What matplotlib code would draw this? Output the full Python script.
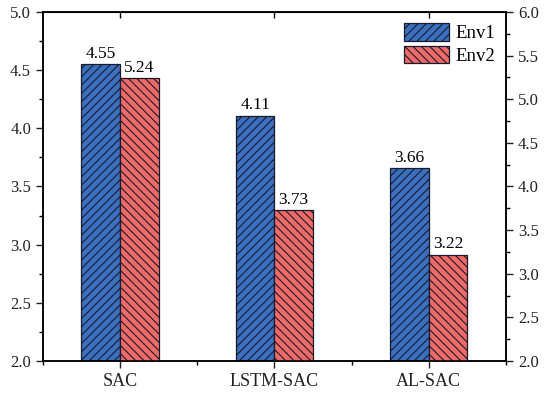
import numpy as np
import matplotlib.pyplot as plt
from matplotlib.ticker import MultipleLocator, FormatStrFormatter

methods = ['SAC', 'LSTM-SAC', 'AL-SAC']
env1 = [4.55, 4.11, 3.66]   # left axis
env2 = [5.24, 3.73, 3.22]   # right axis

plt.rcParams['font.family'] = ['Liberation Serif', 'DejaVu Serif']
plt.rcParams['hatch.linewidth'] = 0.8
plt.rcParams['hatch.color'] = '#1a1a2a'

fig = plt.figure(figsize=(5.5, 3.93), dpi=100)
ax = fig.add_axes([0.078, 0.0814, 0.842, 0.8881])
ax2 = ax.twinx()

x = np.arange(len(methods))
w = 0.25
b1 = ax.bar(x - w / 2, np.array(env1) - 2.0, w, bottom=2.0, color='#3b6fc0',
            edgecolor='#1a1a2a', linewidth=0.9, hatch='////', label='Env1')
b2 = ax2.bar(x + w / 2, np.array(env2) - 2.0, w, bottom=2.0, color='#f06a68',
             edgecolor='#1a1a2a', linewidth=0.9, hatch='\\\\\\\\', label='Env2')

for xi, v in zip(x, env1):
    ax.text(xi - w / 2, v + 0.02, '%.2f' % v, ha='center', va='bottom', fontsize=12.5)
for xi, v in zip(x, env2):
    ax2.text(xi + w / 2, v + 0.027, '%.2f' % v, ha='center', va='bottom', fontsize=12.5)

ax.set_xlim(-0.5, 2.5)
ax.set_ylim(2.0, 5.0)
ax2.set_ylim(2.0, 6.0)

ax.set_xticks(x)
ax.set_xticklabels(methods, fontsize=13)
ax.xaxis.set_minor_locator(MultipleLocator(0.5))
ax.yaxis.set_major_locator(MultipleLocator(0.5))
ax.yaxis.set_minor_locator(MultipleLocator(0.25))
ax.yaxis.set_major_formatter(FormatStrFormatter('%.1f'))
ax2.yaxis.set_major_locator(MultipleLocator(0.5))
ax2.yaxis.set_minor_locator(MultipleLocator(0.25))
ax2.yaxis.set_major_formatter(FormatStrFormatter('%.1f'))

ax.tick_params(axis='both', which='major', direction='out', length=5, width=1, labelsize=12, colors='#222222')
ax.tick_params(axis='x', which='major', labelsize=13)
ax.tick_params(axis='both', which='minor', direction='out', length=3, width=1)
ax2.tick_params(axis='y', which='major', direction='out', length=5, width=1, labelsize=12, colors='#222222')
ax2.tick_params(axis='y', which='minor', direction='out', length=3, width=1)

top = ax.secondary_xaxis('top')
top.set_xticks(x)
top.set_xticklabels([])
top.tick_params(direction='in', length=4, width=1)

for a in (ax, ax2):
    for s in a.spines.values():
        s.set_linewidth(1.1)

ax.legend([b1, b2], ['Env1', 'Env2'], loc='upper right', frameon=False, fontsize=13.5,
          handlelength=2.4, handleheight=1.05, labelspacing=0.2, handletextpad=0.3,
          borderaxespad=0.2, bbox_to_anchor=(1.0, 1.0))

fig.savefig('out.png', dpi=100)
